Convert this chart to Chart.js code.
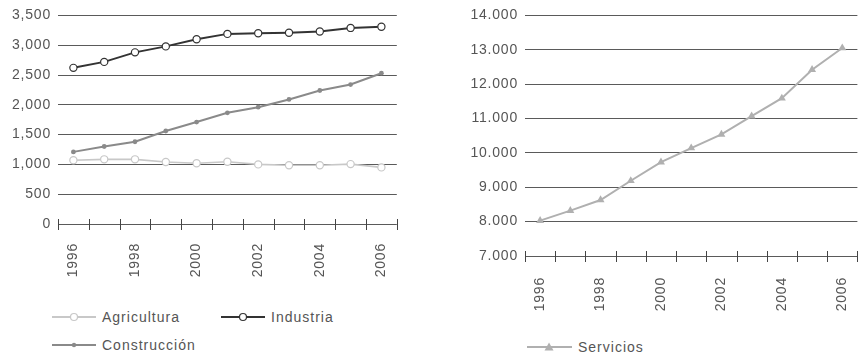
<!DOCTYPE html>
<html>
<head>
<meta charset="utf-8">
<script src="https://cdn.jsdelivr.net/npm/chart.js@4.4.1/dist/chart.umd.min.js"></script>
<style>
  body { margin: 0; background: #fff; }
  #wrap { position: relative; width: 862px; height: 359px; overflow: hidden; font-family: "Liberation Sans", Arial, sans-serif; }
  canvas { position: absolute; }
  .leg { position: absolute; display: flex; align-items: center; font-size: 14px; letter-spacing: 1px; color: #555; }
  .leg svg { margin-right: 6px; }
</style>
</head>
<body>
<div id="wrap">
  <canvas id="left" width="402" height="290" style="left:0;top:0"></canvas>
  <canvas id="right" width="422" height="320" style="left:440px;top:0"></canvas>

  <div class="leg" style="left:52px;top:309px">
    <svg width="44" height="12"><line x1="0" y1="6" x2="44" y2="6" stroke="#c8c8c8" stroke-width="2"/><circle cx="22" cy="6" r="3.5" fill="#fff" stroke="#c8c8c8" stroke-width="1.2"/></svg>Agricultura
  </div>
  <div class="leg" style="left:221px;top:309px">
    <svg width="44" height="12"><line x1="0" y1="6" x2="44" y2="6" stroke="#333" stroke-width="2"/><circle cx="22" cy="6" r="3.5" fill="#fff" stroke="#333" stroke-width="1.2"/></svg>Industria
  </div>
  <div class="leg" style="left:52px;top:337px">
    <svg width="44" height="12"><line x1="0" y1="6" x2="44" y2="6" stroke="#8a8a8a" stroke-width="2"/><circle cx="22" cy="6" r="2.2" fill="#8a8a8a"/></svg>Construcción
  </div>
  <div class="leg" style="left:527px;top:339px">
    <svg width="45" height="12"><line x1="0" y1="6" x2="45" y2="6" stroke="#b0b0b0" stroke-width="2"/><polygon points="22,1.5 26.5,9.5 17.5,9.5" fill="#b0b0b0"/></svg>Servicios
  </div>
</div>

<script>
// years on the x axis
const years = ['1996','1997','1998','1999','2000','2001','2002','2003','2004','2005','2006'];

// employment by sector (thousands)
const agricultura = [1070, 1085, 1085, 1040, 1020, 1045, 1000, 985, 985, 1005, 950];
const industria = [2620, 2720, 2880, 2980, 3100, 3190, 3200, 3210, 3230, 3290, 3310];
const construccion = [1210, 1300, 1380, 1560, 1710, 1865, 1960, 2090, 2240, 2340, 2530];
const servicios = [8030, 8320, 8630, 9190, 9730, 10140, 10540, 11070, 11590, 12420, 13050];

const FONT = { family: '"Liberation Sans", Arial, sans-serif', size: 14 };
const TEXT = '#555';
const GRID = '#5a5a5a';

// widen the canvas text a little
const spacing = {
  id: 'spacing',
  beforeLayout(chart) { chart.ctx.letterSpacing = '0.8px'; },
  beforeDraw(chart) { chart.ctx.letterSpacing = '0.8px'; }
};

// small tick marks crossing the bottom axis at category boundaries
const crossTicks = {
  id: 'crossTicks',
  afterDraw(chart) {
    const x = chart.scales.x;
    const n = chart.data.labels.length;
    const half = (x.getPixelForValue(1) - x.getPixelForValue(0)) / 2;
    const y = chart.chartArea.bottom;
    const ctx = chart.ctx;
    ctx.save();
    ctx.strokeStyle = '#444';
    ctx.lineWidth = 1;
    ctx.beginPath();
    for (let i = 0; i <= n; i++) {
      const px = Math.round(i < n ? x.getPixelForValue(i) - half : x.getPixelForValue(n - 1) + half) + 0.5;
      ctx.moveTo(px, y - 5);
      ctx.lineTo(px, y + 6);
    }
    ctx.stroke();
    ctx.restore();
  }
};

function xScale(pad, height) {
  return {
    offset: true,
    grid: { display: false },
    border: { display: false },
    ticks: {
      autoSkip: false,
      minRotation: 90,
      maxRotation: 90,
      padding: pad,
      color: TEXT,
      font: FONT,
      callback: (v, i) => (i % 2 === 0 ? years[i] : '')
    },
    afterFit: s => {
      s.height = height;
      // the rotated end labels fit inside the margins already
      s.paddingLeft = 0;
      s.paddingRight = 0;
    }
  };
}

function yScale(min, max, step, sep, width) {
  return {
    min: min, max: max,
    grid: { color: GRID, lineWidth: 1, drawTicks: false },
    border: { display: false },
    ticks: {
      stepSize: step,
      padding: 7,
      color: TEXT,
      font: FONT,
      callback: v => v.toLocaleString('en-US').replace(',', sep)
    },
    afterFit: s => { s.width = width; }
  };
}

new Chart(document.getElementById('left'), {
  type: 'line',
  data: {
    labels: years,
    datasets: [
      { label: 'Agricultura', data: agricultura, borderColor: '#c8c8c8', borderWidth: 1.6,
        pointRadius: 3.6, pointBackgroundColor: '#fff', pointBorderColor: '#c8c8c8', pointBorderWidth: 1.2 },
      { label: 'Construcción', data: construccion, borderColor: '#8a8a8a', borderWidth: 2,
        pointRadius: 2.4, pointBackgroundColor: '#8a8a8a', pointBorderColor: '#8a8a8a', pointBorderWidth: 0 },
      { label: 'Industria', data: industria, borderColor: '#333', borderWidth: 2,
        pointRadius: 3.6, pointBackgroundColor: '#fff', pointBorderColor: '#333', pointBorderWidth: 1.2 }
    ]
  },
  options: {
    responsive: false,
    animation: false,
    layout: { padding: { top: 14, right: 2, left: 0, bottom: 0 } },
    plugins: { legend: { display: false }, tooltip: { enabled: false } },
    scales: {
      x: xScale(11, 66),
      y: yScale(0, 3500, 500, ',', 58)
    }
  },
  plugins: [spacing, crossTicks]
});

new Chart(document.getElementById('right'), {
  type: 'line',
  data: {
    labels: years,
    datasets: [
      { label: 'Servicios', data: servicios, borderColor: '#b0b0b0', borderWidth: 2,
        pointStyle: 'triangle', pointRadius: 4.6, pointBackgroundColor: '#b0b0b0',
        pointBorderColor: '#b0b0b0', pointBorderWidth: 0 }
    ]
  },
  options: {
    responsive: false,
    animation: false,
    layout: { padding: { top: 12, right: 1, left: 0, bottom: 0 } },
    plugins: { legend: { display: false }, tooltip: { enabled: false } },
    scales: {
      x: xScale(13, 64),
      y: yScale(7000, 14000, 1000, '.', 85)
    }
  },
  plugins: [spacing, crossTicks]
});
</script>
</body>
</html>
